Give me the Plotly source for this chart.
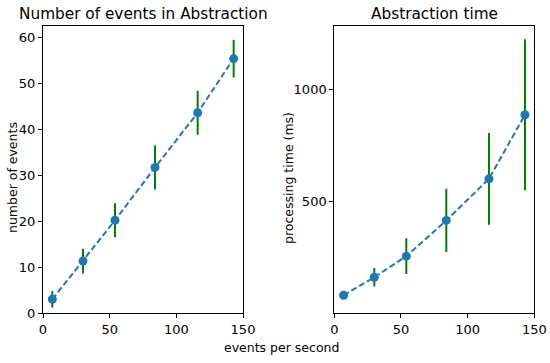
import plotly.graph_objects as go

rate = [7, 30, 54, 84, 116, 143]
n_events = [3.0, 11.3, 20.2, 31.7, 43.6, 55.4]
n_events_err = [1.8, 2.7, 3.7, 4.8, 4.8, 4.1]
proc_time = [84, 164, 258, 417, 602, 887]
proc_time_err = [10, 41, 80, 141, 204, 336]

W, H = 550, 363
blue = "#1f77b4"
green = "#008000"
font = "DejaVu Sans"

def px(x):
    return x / W

def py(y):
    return 1 - y / H

fig = go.Figure()

def add(xv, yv, err, xa, ya):
    fig.add_trace(go.Scatter(
        x=xv, y=yv, xaxis=xa, yaxis=ya, mode="lines+markers",
        line=dict(color=blue, width=2, dash="6px,3px"),
        marker=dict(color=blue, size=9),
        error_y=dict(type="data", array=err, visible=True, color=green, thickness=2, width=0),
        showlegend=False))

add(rate, n_events, n_events_err, "x", "y")
add(rate, proc_time, proc_time_err, "x2", "y2")

ax_common = dict(showline=True, linecolor="black", linewidth=1, mirror=True,
                 ticks="outside", ticklen=4, tickcolor="black", showgrid=False,
                 zeroline=False, automargin=False,
                 tickfont=dict(family=font, size=13, color="black"))

def label(text, x, y, size, angle=0):
    return dict(text=text, x=px(x), y=py(y), xref="paper", yref="paper", textangle=angle,
                showarrow=False, xanchor="center", yanchor="middle",
                font=dict(family=font, size=size, color="black"))

fig.update_layout(
    width=W, height=H, margin=dict(l=0, r=0, t=0, b=0),
    plot_bgcolor="white", paper_bgcolor="white",
    xaxis=dict(domain=[px(43), px(243)], range=[0, 150], tickvals=[0, 50, 100, 150], anchor="y", **ax_common),
    yaxis=dict(domain=[py(313), py(26)], range=[0, 62.5], tickvals=[0, 10, 20, 30, 40, 50, 60], anchor="x",
               **ax_common),
    xaxis2=dict(domain=[px(334.3), px(534.3)], range=[0, 150], tickvals=[0, 50, 100, 150], anchor="y2", **ax_common),
    yaxis2=dict(domain=[py(313), py(26)], range=[5, 1282], tickvals=[500, 1000], anchor="x2",
                **ax_common),
    annotations=[
        label("Number of events in Abstraction", 143, 14, 15.3),
        label("Abstraction time", 434.3, 14, 15.3),
        label("events per second", 281, 347, 12.5),
        label("number of events", 12, 178, 12.5, -90),
        label("processing time (ms)", 288, 178, 12.5, -90),
    ],
)

fig.write_html("out.html", config={"displayModeBar": False},
               post_script="document.body.style.margin='0';")
